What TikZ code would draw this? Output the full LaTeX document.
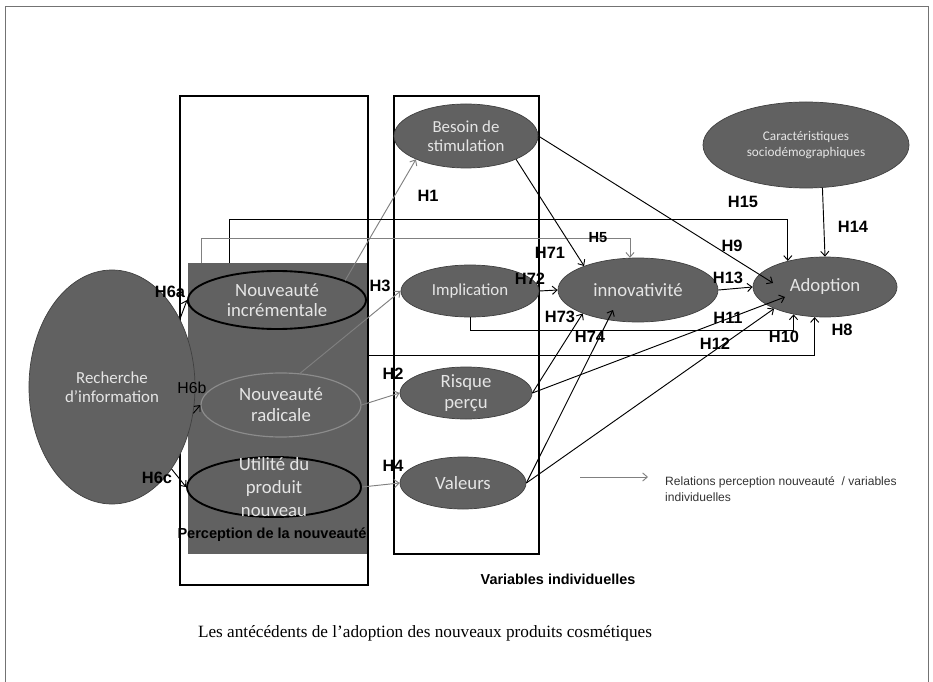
\documentclass[tikz,border=0pt]{standalone}
\usepackage{fontspec}
\setmainfont{Liberation Sans}
\newfontfamily\carl{Carlito}
\newfontfamily\tmsfont{Liberation Serif}
\usetikzlibrary{shapes.geometric,arrows.meta}

\begin{document}
\begin{tikzpicture}[x=0.03cm,y=-0.03cm,
	var/.style={ellipse,draw=black!75,line width=0.6pt,fill=black!62,inner sep=0pt},
	vtext/.style={font=\carl\fontsize{16}{18}\selectfont,text=black!10,align=center,inner sep=0pt},
	hyp/.style={font=\bfseries\fontsize{14}{14}\selectfont,inner sep=0pt},
	boxline/.style={line width=1.8pt},
	gline/.style={draw=black!50,line width=0.8pt,->},
	bline/.style={draw=black,line width=0.8pt,->},
	>={Straight Barb[length=4pt,width=7pt]}]
%			\draw[step=50,red,very thin] (0,0) grid (933,682);
			\useasboundingbox (0,0) rectangle (933,682);

			\draw[black!55,line width=0.6pt](5,690)--(5,6)--(928,6)--(928,690);
			\fill[black!62](188,263) rectangle (367,554);
			\draw[boxline](180,96) rectangle (368,585);
			\draw[boxline](394,96) rectangle (539,554);

			\node[var,minimum width=4.98cm,minimum height=7.02cm] (rech) at (112,387) {};
			\node[var,draw=black,line width=1.6pt,minimum width=5.34cm,minimum height=1.74cm] (inc) at (277,300) {};
			\node[var,draw=black!45,line width=1pt,minimum width=4.8cm,minimum height=1.92cm] (rad) at (281,405) {};
			\node[var,draw=black,line width=1.6pt,minimum width=5.22cm,minimum height=1.8cm] (util) at (274,487) {};
			\node[var,minimum width=4.32cm,minimum height=1.92cm] (bes) at (466,136) {};
			\node[var,minimum width=4.14cm,minimum height=1.56cm] (impl) at (470,291) {};
			\node[var,minimum width=3.96cm,minimum height=1.56cm] (risq) at (466,393) {};
			\node[var,minimum width=3.78cm,minimum height=1.56cm] (val) at (463,483) {};
			\node[var,minimum width=4.8cm,minimum height=1.92cm] (innov) at (638,290) {};
			\node[var,minimum width=4.32cm,minimum height=1.8cm] (adop) at (825,287) {};
			\node[var,minimum width=6.18cm,minimum height=2.58cm] (cara) at (806,145) {};

			\node[vtext,font=\carl\fontsize{14.4}{16.5}\selectfont] (rech-t) at (rech) {Recherche\\d’information};
			\node[vtext,font=\carl\fontsize{16}{17}\selectfont] (inc-t) at (inc) {Nouveauté\\incrémentale};
			\node[vtext] (rad-t) at (rad) {Nouveauté\\radicale};
			\node[vtext,font=\carl\fontsize{16}{19.5}\selectfont] (util-t) at (util) {Utilité du\\produit\\nouveau};
			\node[vtext,font=\carl\fontsize{14.4}{16.5}\selectfont] (bes-t) at (bes) {Besoin de\\stimulation};
			\node[vtext,font=\carl\fontsize{14.4}{16.5}\selectfont] (impl-t) at (impl) {Implication};
			\node[vtext,font=\carl\fontsize{16}{18.5}\selectfont] (risq-t) at (risq) {Risque\\perçu};
			\node[vtext] (val-t) at (val) {Valeurs};
			\node[vtext] (innov-t) at (innov) {innovativité};
			\node[vtext] (adop-t) at (adop) {Adoption};
			\node[vtext,font=\carl\fontsize{11.3}{13}\selectfont] (cara-t) at (cara) {Caractéristiques\\sociodémographiques};

			\coordinate (h15s) at (229,263);
			\coordinate (h5s) at (201,263);
			\coordinate (h8s) at (367,355);

			\draw[gline](inc.16)--(bes.205);
			\draw[gline](rad.59)--(impl.west);
			\draw[gline](rad.east)--(risq.west);
			\draw[gline](util.east)--(val.west);
			\draw[bline](rech.45)--(inc.west);
			\draw[bline](rech.-18)--(rad.west);
			\draw[bline](rech.-54)--(util.west);
			\draw[bline](h15s)--++(0,-44)-|(adop.145);
			\draw[gline](h5s)--++(0,-25)-|(innov.104);
			\draw[bline](bes.-25)--(innov.156);
			\draw[bline](bes.east)--([shift={(-52,-4)}]adop.center);
			\draw[bline](impl.east)--(innov.west);
			\draw[bline](innov.east)--(adop.west);
			\draw[bline](impl.south)--++(0,13)-|(adop.221);
			\draw[bline](h8s)-|(adop.251);
			\draw[bline](risq.east)--(innov.203);
			\draw[bline](val.east)--([shift={(-25,20)}]innov.center);
			\draw[bline](risq.east)--([shift={(-40,10)}]adop.center);
			\draw[bline](val.east)--(adop.203);
			\draw[bline](cara.-69)--(adop.north);

			\node[hyp] (h1) at (428,196) {H1};
			\node[hyp] (h2) at (393,374) {H2};
			\node[hyp] (h3) at (380,286) {H3};
			\node[hyp] (h4) at (393,466) {H4};
			\node[hyp,font=\bfseries\fontsize{12.5}{12.5}\selectfont] (h5) at (598,238) {H5};
			\node[hyp] (h6a) at (170,292) {H6a};
			\node[hyp,font=\fontsize{13.5}{13.5}\selectfont] (h6b) at (192,388) {H6b};
			\node[hyp] (h6c) at (157,478) {H6c};
			\node[hyp] (h71) at (550,253) {H71};
			\node[hyp] (h72) at (530,279) {H72};
			\node[hyp] (h73) at (560,317) {H73};
			\node[hyp] (h74) at (590,337) {H74};
			\node[hyp] (h8) at (842,330) {H8};
			\node[hyp] (h9) at (732,246) {H9};
			\node[hyp] (h10) at (784,337) {H10};
			\node[hyp] (h11) at (728,318) {H11};
			\node[hyp] (h12) at (715,344) {H12};
			\node[hyp] (h13) at (728,278) {H13};
			\node[hyp] (h14) at (853,227) {H14};
			\node[hyp] (h15) at (743,202) {H15};

			\coordinate (lg1) at (580,477);
			\coordinate (lg2) at (648,477);
			\draw[gline](lg1)--(lg2);
			\node[font=\fontsize{10.3}{13}\selectfont,text=black!80,anchor=west,align=left,inner sep=0pt] (lg-t) at (665,489) {Relations perception nouveauté~ / variables\\individuelles};

			\node[font=\bfseries\fontsize{12.4}{14}\selectfont,inner sep=0pt] (pnov-t) at (272,535) {Perception de la nouveauté};
			\node[font=\bfseries\fontsize{12.3}{14}\selectfont,inner sep=0pt] (vind-t) at (558,579) {Variables individuelles};
			\node[font=\tmsfont\fontsize{14.7}{16}\selectfont,inner sep=0pt] (capt) at (425,633) {Les antécédents de l’adoption des nouveaux produits cosmétiques};
	\end{tikzpicture}
\end{document}
